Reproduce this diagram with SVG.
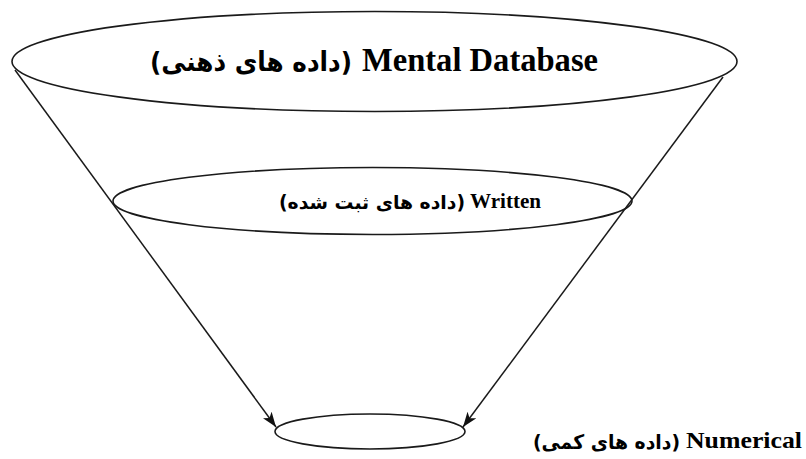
<svg xmlns="http://www.w3.org/2000/svg" width="806" height="459" viewBox="0 0 806 459">
  <style>
    .shape { fill: none; stroke: #1a1a1a; stroke-width: 1.6; }
    .link { fill: none; stroke: #1a1a1a; stroke-width: 1.5; }
    .lat { font-family: "Liberation Serif", "Times New Roman", serif; font-weight: bold; fill: #000; }
    .fa { font-family: "DejaVu Sans", "Noto Sans", sans-serif; font-weight: bold; fill: #000; }
  </style>
  <defs>
    <marker id="arrow" viewBox="0 0 15 11" refX="15" refY="5.5" markerWidth="15" markerHeight="11" markerUnits="userSpaceOnUse" orient="auto">
      <path d="M0,0 L15,5.5 L0,11 L4,5.5 Z" fill="#111"/>
    </marker>
  </defs>
  <rect width="806" height="459" fill="#fff"/>

  <!-- funnel sides -->
  <g id="connectors">
    <line class="link" x1="15" y1="70" x2="276" y2="427" marker-end="url(#arrow)"/>
    <line class="link" x1="723" y1="77" x2="463" y2="427" marker-end="url(#arrow)"/>
  </g>

  <!-- top layer -->
  <g id="mental">
    <ellipse class="shape" cx="374.5" cy="61.5" rx="362.5" ry="50"/>
    <text class="fa" x="150" y="71" font-size="27" textLength="202" lengthAdjust="spacingAndGlyphs">(داده های ذهنی)</text>
    <text class="lat" x="362" y="71" font-size="34" textLength="236" lengthAdjust="spacingAndGlyphs">Mental Database</text>
  </g>

  <!-- middle layer -->
  <g id="written">
    <ellipse class="shape" cx="372.5" cy="201" rx="259.5" ry="33.5"/>
    <text class="fa" x="279" y="209" font-size="19" textLength="186" lengthAdjust="spacingAndGlyphs">(داده های ثبت شده)</text>
    <text class="lat" x="470" y="208" font-size="22" textLength="71" lengthAdjust="spacingAndGlyphs">Written</text>
  </g>

  <!-- bottom layer -->
  <g id="numerical">
    <ellipse class="shape" cx="370" cy="431.5" rx="95" ry="17.5"/>
    <text class="fa" x="533" y="449" font-size="20" textLength="147" lengthAdjust="spacingAndGlyphs">(داده های کمی)</text>
    <text class="lat" x="686" y="448" font-size="24" textLength="116" lengthAdjust="spacingAndGlyphs">Numerical</text>
  </g>
</svg>
